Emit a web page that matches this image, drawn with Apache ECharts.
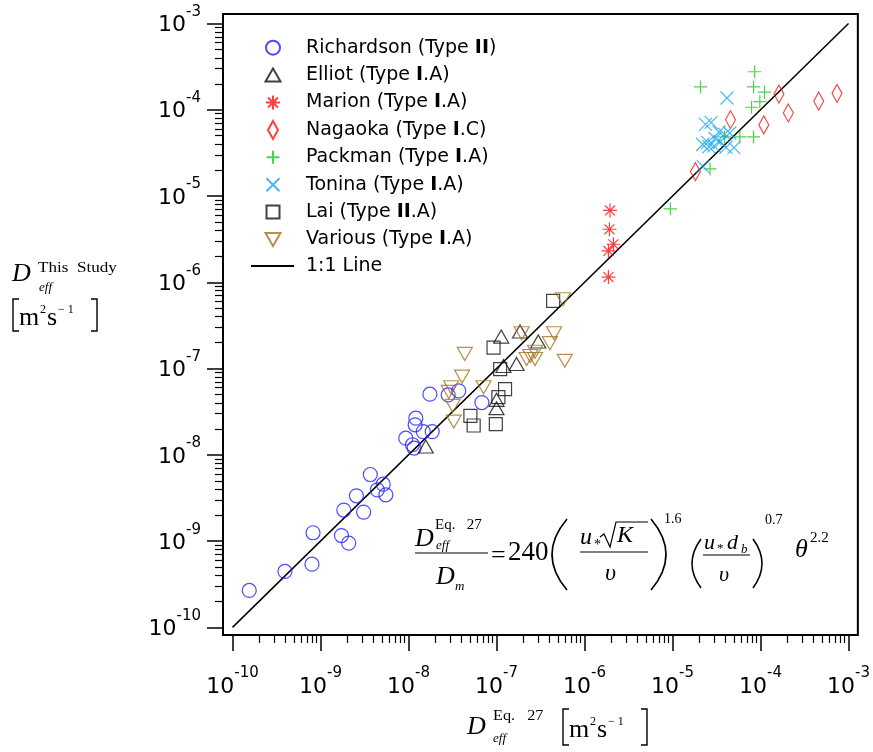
<!DOCTYPE html>
<html><head><meta charset="utf-8">
<script src="https://cdn.jsdelivr.net/npm/echarts@6/dist/echarts.min.js"></script>
<style>html,body{margin:0;padding:0;background:#fff}#c{width:873px;height:752px}</style>
</head><body><div id="c"></div>
<script>
// ---- data (values in m^2/s) ----
const richardsonX = [1.55e-10,3.94e-10,8.0e-10,8.22e-10,1.73e-9,2.09e-9,1.84e-9,2.56e-9,3.09e-9,3.68e-9,4.42e-9,5.16e-9,5.53e-9,9.31e-9,1.11e-8,1.16e-8,1.21e-8,1.19e-8,1.47e-8,1.86e-8,1.75e-8,2.82e-8,3.72e-8,6.82e-8];
const richardsonY = [2.68e-10,4.45e-10,5.41e-10,1.25e-9,1.16e-9,9.48e-10,2.29e-9,3.35e-9,2.17e-9,5.92e-9,3.93e-9,4.57e-9,3.44e-9,1.56e-8,1.31e-8,1.2e-8,2.66e-8,2.23e-8,1.86e-8,1.86e-8,5.05e-8,4.95e-8,5.52e-8,4.04e-8];
const elliotX = [1.57e-8,1.13e-7,1.85e-7,2.98e-7,1.2e-7,1.69e-7,1.0e-7,1.0e-7];
const elliotY = [1.25e-8,2.35e-7,2.69e-7,2.06e-7,1.07e-7,1.13e-7,4.34e-8,3.48e-8];
const marionX = [1.95e-6,1.92e-6,2.13e-6,1.87e-6,1.87e-6];
const marionY = [6.81e-6,4.12e-6,2.76e-6,2.31e-6,1.15e-6];
const nagaokaX = [1.82e-5,4.56e-5,1.09e-4,1.62e-4,2.07e-4,4.58e-4,7.40e-4];
const nagaokaY = [1.92e-5,7.67e-5,6.67e-5,1.52e-4,9.18e-5,1.26e-4,1.55e-4];
const packmanX = [9.46e-6,2.08e-5,2.67e-5,8.57e-5,8.34e-5,1.11e-4,9.82e-5,7.91e-5,8.34e-5,5.83e-5,3.90e-5];
const packmanY = [7.10e-6,1.84e-4,2.06e-5,2.76e-4,1.84e-4,1.60e-4,1.24e-4,1.07e-4,4.84e-5,4.84e-5,4.84e-5];
const toninaX = [4.16e-5,2.37e-5,2.75e-5,2.20e-5,2.51e-5,3.05e-5,3.38e-5,3.90e-5,4.47e-5,3.50e-5,4.06e-5,4.99e-5,2.59e-5,2.23e-5,2.97e-5];
const toninaY = [1.37e-4,6.76e-5,7.13e-5,3.96e-5,4.18e-5,4.65e-5,5.53e-5,5.18e-5,5.38e-5,4.27e-5,3.66e-5,3.64e-5,3.73e-5,2.19e-5,3.81e-5];
const laiX = [4.40e-7,9.25e-8,1.10e-7,1.25e-7,1.05e-7,5.05e-8,5.50e-8,9.82e-8];
const laiY = [6.08e-7,1.75e-7,9.84e-8,5.77e-8,4.67e-8,2.83e-8,2.19e-8,2.27e-8];
const variousX = [5.70e-7,4.36e-8,4.06e-8,3.05e-8,7.13e-8,3.18e-8,3.27e-8,1.93e-7,4.52e-7,4.04e-7,2.74e-7,2.20e-7,2.74e-7,5.97e-7,2.87e-8,2.42e-7];
const variousY = [6.37e-7,1.48e-7,8.07e-8,6.08e-8,6.08e-8,3.70e-8,2.43e-8,2.57e-7,2.57e-7,1.97e-7,1.57e-7,1.29e-7,1.29e-7,1.23e-7,5.37e-8,1.40e-7];
const oneToOne = [1e-10, 1e-3];
const tickExponents = [-10,-9,-8,-7,-6,-5,-4,-3];
const minorMultipliers = [2,3,4,5,6,7,8,9];
const seriesNames = ['Richardson (Type II)','Elliot (Type I.A)','Marion (Type I.A)','Nagaoka (Type I.C)','Packman (Type I.A)','Tonina (Type I.A)','Lai (Type II.A)','Various (Type I.A)','1:1 Line'];

// ---- chart ----
const L = Math.log10;
const pts = (xs, ys) => xs.map((x, i) => [L(x), L(ys[i])]);
const minorTicks = [];
tickExponents.slice(0, -1).forEach(e => minorMultipliers.forEach(m => minorTicks.push(e + L(m))));
const X_MIN = -10.108, X_MAX = -2.894, Y_MIN = -10.088, Y_MAX = -2.890;
const SANS = '"DejaVu Sans", "Noto Sans", sans-serif';
const SERIF = '"Liberation Serif", "DejaVu Serif", serif';

const symbols = {
  asterisk: 'path://M5,0L5,10M0,5L10,5M1.46,1.46L8.54,8.54M1.46,8.54L8.54,1.46',
  plus: 'path://M5,0L5,10M0,5L10,5',
  cross: 'path://M0,0L10,10M0,10L10,0',
  diamond: 'path://M5,0L10,9L5,18L0,9Z',
  down: 'path://M0,0L10,0L5,8.66Z'
};
// legend icons drawn in a 43x20 box (corner moves fix the box so nothing is stretched)
const BOX = 'path://M0,0M43,20';
const legendIcons = [
  BOX + 'M15,10A7,7 0 1 1 29,10A7,7 0 1 1 15,10Z',
  BOX + 'M22,3.5L29.5,16.5L14.5,16.5Z',
  BOX + 'M22,3L22,17M15,10L29,10M17.05,5.05L26.95,14.95M17.05,14.95L26.95,5.05',
  BOX + 'M22,1L27,10L22,19L17,10Z',
  BOX + 'M22,3.5L22,16.5M15.5,10L28.5,10',
  BOX + 'M15.5,3.5L28.5,16.5M15.5,16.5L28.5,3.5',
  BOX + 'M15.5,3.5L28.5,3.5L28.5,16.5L15.5,16.5Z',
  BOX + 'M14.5,3.5L29.5,3.5L22,16.5Z',
  null
];
function sc(name, xs, ys, symbol, size, color) {
  return { type: 'scatter', name, data: pts(xs, ys), symbol, symbolSize: size,
    itemStyle: { color: 'rgba(0,0,0,0)', borderColor: color, borderWidth: 1.2 }, z: 3 };
}
const series = [
  sc(seriesNames[0], richardsonX, richardsonY, 'circle', 14, '#1f1fff'),
  sc(seriesNames[1], elliotX, elliotY, 'triangle', [15, 13], '#111'),
  sc(seriesNames[2], marionX, marionY, symbols.asterisk, 14, '#ff1010'),
  sc(seriesNames[3], nagaokaX, nagaokaY, symbols.diamond, [10, 18], '#ff1010'),
  sc(seriesNames[4], packmanX, packmanY, symbols.plus, 13, '#1ec81e'),
  sc(seriesNames[5], toninaX, toninaY, symbols.cross, 13, '#1ea6f0'),
  sc(seriesNames[6], laiX, laiY, 'rect', 13, '#111'),
  sc(seriesNames[7], variousX, variousY, symbols.down, [15, 13], '#a47420'),
  { type: 'line', name: seriesNames[8], data: [[L(oneToOne[0]), L(oneToOne[0])], [L(oneToOne[1]), L(oneToOne[1])]],
    symbol: 'none', itemStyle: { color: 'rgba(0,0,0,0)', borderWidth: 0 }, lineStyle: { color: '#000', width: 1.5 }, z: 2 }
];

const labelRich = {
  b: { fontSize: 22, fontFamily: SANS, color: '#000', verticalAlign: 'bottom', lineHeight: 32 },
  s: { fontSize: 15, fontFamily: SANS, color: '#000', verticalAlign: 'top', lineHeight: 15 }
};
const fmt = v => '{b|10}{s|' + Math.round(v) + '}';
function axes(isX) {
  const base = { type: 'value', min: isX ? X_MIN : Y_MIN, max: isX ? X_MAX : Y_MAX,
    position: isX ? 'bottom' : 'left', axisLine: { show: false }, splitLine: { show: false } };
  return [
    Object.assign({}, base, {
      axisTick: { show: true, length: 16, customValues: tickExponents, lineStyle: { color: '#000', width: 1.5 } },
      axisLabel: { show: true, customValues: tickExponents, formatter: fmt, rich: labelRich,
        margin: isX ? 31 : 22, padding: isX ? 0 : [0, 0, 6, 0] }
    }),
    Object.assign({}, base, {
      axisTick: { show: true, length: 8, customValues: minorTicks, lineStyle: { color: '#000', width: 1.2 } },
      axisLabel: { show: false }
    })
  ];
}

// ---- text annotations (equation, axis titles) ----
const T = (x, y, text, font, sx) => ({ type: 'text', x, y, scaleX: sx || 1, silent: true, z: 10,
  style: { text, font, fill: '#000', align: 'left', verticalAlign: 'middle', textAlign: 'left', textVerticalAlign: 'middle' } });
const Ln = (x1, y1, x2, y2, w) => ({ type: 'line', silent: true, z: 10, shape: { x1, y1, x2, y2 }, style: { stroke: '#000', lineWidth: w || 1.2 } });
const Bz = (x1, y1, x2, y2, cx, cy) => ({ type: 'bezierCurve', silent: true, z: 10, shape: { x1, y1, x2, y2, cpx1: cx, cpy1: cy }, style: { stroke: '#000', lineWidth: 1.6, fill: null } });
const PL = (points, w) => ({ type: 'polyline', silent: true, z: 10, shape: { points }, style: { stroke: '#000', lineWidth: w || 1.2, fill: null } });
const it = s => 'italic ' + s + 'px ' + SERIF;
const rm = s => s + 'px ' + SERIF;

function unitBlock(x, y, h) {
  // [ m^2 s^-1 ]
  const top = y - h / 2, bot = y + h / 2;
  return [
    PL([[x + 6, top], [x, top], [x, bot], [x + 6, bot]], 1.4),
    T(x + 6, y + 3, 'm', rm(26)),
    T(x + 27, y - 5, '2', rm(12)),
    T(x + 34, y + 3, 's', rm(26)),
    T(x + 45, y - 5, '\u2212 1', rm(12)),
    PL([[x + 78, top], [x + 84, top], [x + 84, bot], [x + 78, bot]], 1.4)
  ];
}
const graphics = [
  // y-axis title
  T(12, 274, 'D', it(26)),
  T(38, 268, 'This  Study', rm(14), 1.22),
  T(39, 288, 'eff', it(13)),
  ...unitBlock(13, 315, 32),
  // x-axis title
  T(467, 727, 'D', it(26)),
  T(493, 716, 'Eq.   27', rm(15), 1.08),
  T(493, 739, 'eff', it(13)),
  ...unitBlock(563, 727, 36),
  // equation
  T(415, 539, 'D', it(26)),
  T(435, 525, 'Eq.   27', rm(15)),
  T(436, 546, 'eff', it(13)),
  Ln(415, 553, 488, 553),
  T(436, 577, 'D', it(26)),
  T(455, 587, 'm', it(13)),
  T(491, 556, '=', rm(26)),
  T(508, 553, '240', rm(27)),
  Bz(567, 519, 567, 590, 537, 554.5),
  T(580, 538, 'u', it(24)),
  T(594, 545, '*', rm(14)),
  PL([[600, 537], [604, 534], [610, 547], [616, 522], [648, 522]], 1.2),
  T(617, 536, 'K', it(24)),
  Ln(580, 552, 648, 552),
  T(605, 574, '\u03C5', it(24)),
  Bz(651, 519, 651, 590, 681, 554.5),
  T(664, 519, '1.6', rm(14)),
  Bz(701, 539, 701, 588, 683, 563.5),
  T(704, 543, 'u', it(22)),
  T(717, 549, '*', rm(13)),
  T(727, 543, 'd', it(22)),
  T(741, 550, 'b', it(13)),
  Ln(703, 555, 750, 555),
  T(719, 575, '\u03C5', it(22)),
  Bz(753, 539, 753, 588, 771, 563.5),
  T(765, 520, '0.7', rm(14)),
  T(795, 550, '\u03B8', it(26)),
  T(810, 538, '2.2', rm(15))
];

const chart = echarts.init(document.getElementById('c'), null, { renderer: 'canvas' });
chart.setOption({
  animation: false,
  backgroundColor: '#fff',
  grid: { left: 223, right: 11, top: 14, bottom: 117, show: true, borderColor: '#000', borderWidth: 2, backgroundColor: 'transparent' },
  xAxis: axes(true),
  yAxis: axes(false),
  legend: {
    orient: 'vertical', left: 245, top: 31.7, itemWidth: 43, itemHeight: 20, itemGap: 5.4,
    selectedMode: false,
    data: seriesNames.map((n, i) => legendIcons[i] ? { name: n, icon: legendIcons[i] } : { name: n }),
    formatter: n => n.replace(/Type (I+)/, 'Type {b|$1}'),
    textStyle: { fontFamily: SANS, fontSize: 19, color: '#000', lineHeight: 20, padding: [0, 0, 0, 7],
      rich: { b: { fontFamily: SANS, fontSize: 19, fontWeight: 'bold', color: '#000', lineHeight: 20 } } }
  },
  series,
  graphic: graphics
});
</script>
</body></html>
